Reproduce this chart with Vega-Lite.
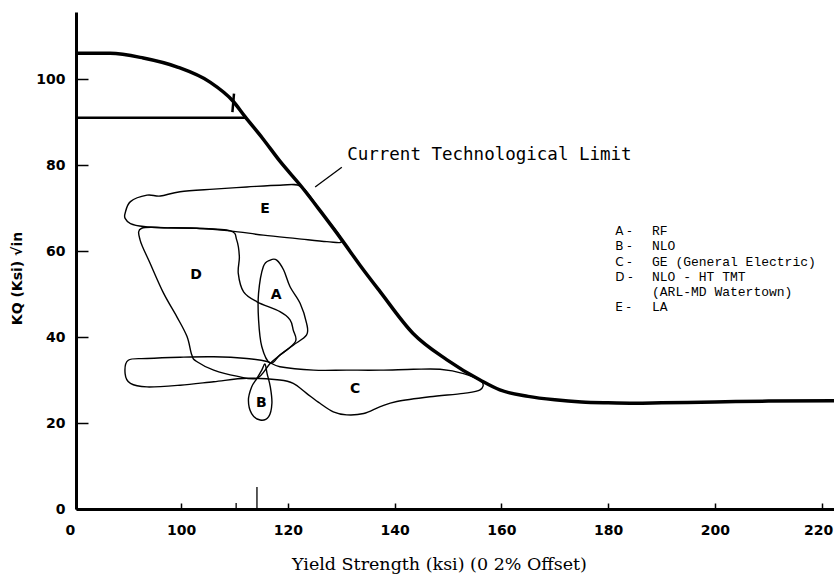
{
  "$schema": "https://vega.github.io/schema/vega-lite/v6.json",
  "width": 758,
  "height": 497,
  "autosize": {"type": "none"},
  "padding": {"left": 76, "top": 12, "right": 0, "bottom": 69},
  "background": "white",
  "config": {"view": {"stroke": null}},
  "datasets": {
    "curve": [
      {"x": 80.3, "y": 106.0}, {"x": 86.7, "y": 106.0}, {"x": 92.9, "y": 104.9}, {"x": 99.3, "y": 102.8},
      {"x": 105.4, "y": 99.3}, {"x": 109.7, "y": 94.9}, {"x": 112.0, "y": 91.2}, {"x": 115.2, "y": 86.3},
      {"x": 118.5, "y": 80.9}, {"x": 122.6, "y": 74.9}, {"x": 126.2, "y": 69.1}, {"x": 130.1, "y": 62.6},
      {"x": 133.5, "y": 56.7}, {"x": 137.3, "y": 50.5}, {"x": 143.4, "y": 40.9}, {"x": 149.8, "y": 34.7},
      {"x": 156.0, "y": 30.0}, {"x": 159.7, "y": 27.7}, {"x": 165.0, "y": 26.2}, {"x": 170.0, "y": 25.4},
      {"x": 175.0, "y": 24.9}, {"x": 180.0, "y": 24.7}, {"x": 185.0, "y": 24.6}, {"x": 190.0, "y": 24.7},
      {"x": 200.0, "y": 24.9}, {"x": 210.0, "y": 25.1}, {"x": 222.3, "y": 25.2}
    ],
    "regions": [
      {"r": "E", "i": 0, "x": 89.5, "y": 68.8}, {"r": "E", "i": 1, "x": 90.5, "y": 71.5}, {"r": "E", "i": 2, "x": 93.6, "y": 73.0},
      {"r": "E", "i": 3, "x": 96.1, "y": 72.8}, {"r": "E", "i": 4, "x": 99.8, "y": 73.8}, {"r": "E", "i": 5, "x": 106.1, "y": 74.4},
      {"r": "E", "i": 6, "x": 112.3, "y": 74.9}, {"r": "E", "i": 7, "x": 118.5, "y": 75.3}, {"r": "E", "i": 8, "x": 122.6, "y": 74.9},
      {"r": "E", "i": 9, "x": 126.2, "y": 69.1}, {"r": "E", "i": 10, "x": 130.1, "y": 62.6}, {"r": "E", "i": 11, "x": 127.3, "y": 62.2},
      {"r": "E", "i": 12, "x": 121.7, "y": 62.9}, {"r": "E", "i": 13, "x": 115.4, "y": 63.7}, {"r": "E", "i": 14, "x": 109.2, "y": 64.7},
      {"r": "E", "i": 15, "x": 102.9, "y": 65.3}, {"r": "E", "i": 16, "x": 96.7, "y": 65.4}, {"r": "E", "i": 17, "x": 93.0, "y": 65.7},
      {"r": "E", "i": 18, "x": 90.5, "y": 66.4}, {"r": "E", "i": 19, "x": 89.5, "y": 67.6},

      {"r": "D", "i": 0, "x": 92.6, "y": 65.3}, {"r": "D", "i": 1, "x": 97.5, "y": 65.4}, {"r": "D", "i": 2, "x": 102.9, "y": 65.3},
      {"r": "D", "i": 3, "x": 109.2, "y": 64.7}, {"r": "D", "i": 4, "x": 110.4, "y": 62.6}, {"r": "D", "i": 5, "x": 110.9, "y": 58.7},
      {"r": "D", "i": 6, "x": 110.7, "y": 54.8}, {"r": "D", "i": 7, "x": 111.7, "y": 50.5}, {"r": "D", "i": 8, "x": 114.2, "y": 48.2},
      {"r": "D", "i": 9, "x": 118.5, "y": 45.9}, {"r": "D", "i": 10, "x": 120.4, "y": 44.0}, {"r": "D", "i": 11, "x": 121.0, "y": 41.6},
      {"r": "D", "i": 12, "x": 121.4, "y": 38.9}, {"r": "D", "i": 13, "x": 118.5, "y": 35.8}, {"r": "D", "i": 14, "x": 116.7, "y": 33.9},
      {"r": "D", "i": 15, "x": 114.2, "y": 30.4}, {"r": "D", "i": 16, "x": 110.4, "y": 30.9}, {"r": "D", "i": 17, "x": 106.1, "y": 32.3},
      {"r": "D", "i": 18, "x": 102.9, "y": 34.3}, {"r": "D", "i": 19, "x": 102.0, "y": 35.8}, {"r": "D", "i": 20, "x": 101.1, "y": 40.1},
      {"r": "D", "i": 21, "x": 99.2, "y": 44.7}, {"r": "D", "i": 22, "x": 96.7, "y": 50.2}, {"r": "D", "i": 23, "x": 94.2, "y": 57.1},
      {"r": "D", "i": 24, "x": 92.3, "y": 62.6},

      {"r": "A", "i": 0, "x": 116.7, "y": 33.9}, {"r": "A", "i": 1, "x": 115.1, "y": 37.8}, {"r": "A", "i": 2, "x": 114.5, "y": 44.0},
      {"r": "A", "i": 3, "x": 114.5, "y": 50.2}, {"r": "A", "i": 4, "x": 115.4, "y": 56.4}, {"r": "A", "i": 5, "x": 116.7, "y": 57.9},
      {"r": "A", "i": 6, "x": 117.9, "y": 57.9}, {"r": "A", "i": 7, "x": 119.2, "y": 55.6}, {"r": "A", "i": 8, "x": 120.4, "y": 51.7},
      {"r": "A", "i": 9, "x": 122.3, "y": 47.8}, {"r": "A", "i": 10, "x": 123.5, "y": 43.2}, {"r": "A", "i": 11, "x": 123.5, "y": 40.5},
      {"r": "A", "i": 12, "x": 121.0, "y": 38.1}, {"r": "A", "i": 13, "x": 118.5, "y": 35.8},

      {"r": "B", "i": 0, "x": 115.7, "y": 33.7}, {"r": "B", "i": 1, "x": 115.1, "y": 32.3}, {"r": "B", "i": 2, "x": 114.2, "y": 30.4},
      {"r": "B", "i": 3, "x": 113.2, "y": 28.4}, {"r": "B", "i": 4, "x": 112.6, "y": 25.3}, {"r": "B", "i": 5, "x": 113.2, "y": 22.2},
      {"r": "B", "i": 6, "x": 114.8, "y": 20.7}, {"r": "B", "i": 7, "x": 116.4, "y": 21.5}, {"r": "B", "i": 8, "x": 117.0, "y": 24.6},
      {"r": "B", "i": 9, "x": 116.7, "y": 28.4}, {"r": "B", "i": 10, "x": 116.1, "y": 31.5},

      {"r": "C", "i": 0, "x": 90.1, "y": 34.6}, {"r": "C", "i": 1, "x": 93.6, "y": 35.0}, {"r": "C", "i": 2, "x": 99.8, "y": 35.3},
      {"r": "C", "i": 3, "x": 106.1, "y": 35.4}, {"r": "C", "i": 4, "x": 112.3, "y": 35.0}, {"r": "C", "i": 5, "x": 116.1, "y": 34.3},
      {"r": "C", "i": 6, "x": 118.5, "y": 33.1}, {"r": "C", "i": 7, "x": 124.8, "y": 32.3}, {"r": "C", "i": 8, "x": 131.0, "y": 32.3},
      {"r": "C", "i": 9, "x": 137.3, "y": 32.3}, {"r": "C", "i": 10, "x": 143.5, "y": 32.5}, {"r": "C", "i": 11, "x": 148.5, "y": 32.5},
      {"r": "C", "i": 12, "x": 152.9, "y": 31.5}, {"r": "C", "i": 13, "x": 156.3, "y": 29.6}, {"r": "C", "i": 14, "x": 156.0, "y": 27.7},
      {"r": "C", "i": 15, "x": 152.9, "y": 26.9}, {"r": "C", "i": 16, "x": 146.6, "y": 26.1}, {"r": "C", "i": 17, "x": 140.4, "y": 25.0},
      {"r": "C", "i": 18, "x": 137.3, "y": 23.8}, {"r": "C", "i": 19, "x": 134.2, "y": 22.2}, {"r": "C", "i": 20, "x": 131.0, "y": 21.9},
      {"r": "C", "i": 21, "x": 128.5, "y": 22.6}, {"r": "C", "i": 22, "x": 126.0, "y": 24.6}, {"r": "C", "i": 23, "x": 123.5, "y": 26.9},
      {"r": "C", "i": 24, "x": 121.0, "y": 29.2}, {"r": "C", "i": 25, "x": 118.5, "y": 30.0}, {"r": "C", "i": 26, "x": 112.3, "y": 30.4},
      {"r": "C", "i": 27, "x": 106.1, "y": 29.6}, {"r": "C", "i": 28, "x": 99.8, "y": 28.8}, {"r": "C", "i": 29, "x": 93.6, "y": 28.4},
      {"r": "C", "i": 30, "x": 90.5, "y": 29.2}, {"r": "C", "i": 31, "x": 89.5, "y": 31.5}
    ],
    "regionLabels": [
      {"label": "E", "x": 115.7, "y": 69.8},
      {"label": "D", "x": 102.8, "y": 54.4},
      {"label": "A", "x": 117.8, "y": 49.8},
      {"label": "B", "x": 115.0, "y": 24.7},
      {"label": "C", "x": 132.6, "y": 27.9}
    ],
    "segments": [
      {"x": 80.3, "x2": 112.0, "y": 91.0, "y2": 91.0},
      {"x": 109.6, "x2": 109.9, "y": 92.3, "y2": 96.6}
    ],
    "thinSegments": [
      {"x": 125.1, "x2": 130.1, "y": 74.9, "y2": 79.5},
      {"x": 110.3, "x2": 110.3, "y": 0, "y2": 1.4},
      {"x": 114.2, "x2": 114.2, "y": 0, "y2": 5.1}
    ],
    "legendKeys": [
      {"key": "A -", "desc": "RF", "y": 64.7},
      {"key": "B -", "desc": "NLO", "y": 61.2},
      {"key": "C -", "desc": "GE (General Electric)", "y": 57.4},
      {"key": "D -", "desc": "NLO - HT TMT", "y": 54.0},
      {"key": "", "desc": "(ARL-MD Watertown)", "y": 50.5},
      {"key": "E -", "desc": "LA", "y": 47.0}
    ]
  },
  "layer": [
    {
      "data": {"name": "curve"},
      "mark": {"type": "line", "color": "black", "strokeWidth": 3.5, "interpolate": "monotone"},
      "encoding": {
        "x": {
          "field": "x", "type": "quantitative",
          "scale": {"domain": [80.3, 222.3], "nice": false, "zero": false},
          "axis": {
            "values": [80.3, 100, 120, 140, 160, 180, 200, 220],
            "labelExpr": "datum.value < 90 ? '0' : datum.label",
            "grid": false, "tickSize": -6, "tickWidth": 1.5, "tickColor": "black",
            "domainWidth": 3, "domainColor": "black",
            "labelFont": "DejaVu Sans", "labelFontWeight": "bold", "labelFontSize": 14, "labelColor": "black",
            "labelPadding": 20, "labelFlush": 13, "labelFlushOffset": 11,
            "title": "Yield Strength (ksi) (0 2% Offset)",
            "titleFont": "DejaVu Serif", "titleFontWeight": "normal", "titleFontSize": 17.5, "titleColor": "black",
            "titleX": 363, "titleY": 46
          }
        },
        "y": {
          "field": "y", "type": "quantitative",
          "scale": {"domain": [0, 115.6], "nice": false, "zero": false},
          "axis": {
            "values": [0, 20, 40, 60, 80, 100],
            "grid": false, "tickSize": -12, "tickWidth": 1.5, "tickColor": "black",
            "domainWidth": 3, "domainColor": "black",
            "labelFont": "DejaVu Sans", "labelFontWeight": "bold", "labelFontSize": 14, "labelColor": "black",
            "labelPadding": 23, "labelFlush": false,
            "title": "KQ (Ksi) √in",
            "titleFont": "DejaVu Sans", "titleFontWeight": "bold", "titleFontSize": 14, "titleColor": "black",
            "titleX": -52, "titleY": 266
          }
        }
      }
    },
    {
      "mark": {"type": "rule", "color": "black", "strokeWidth": 2.5},
      "encoding": {"y": {"datum": 115.6}}
    },
    {
      "data": {"name": "segments"},
      "mark": {"type": "rule", "color": "black", "strokeWidth": 2.5},
      "encoding": {
        "x": {"field": "x", "type": "quantitative"},
        "x2": {"field": "x2"},
        "y": {"field": "y", "type": "quantitative"},
        "y2": {"field": "y2"}
      }
    },
    {
      "data": {"name": "thinSegments"},
      "mark": {"type": "rule", "color": "black", "strokeWidth": 1.3},
      "encoding": {
        "x": {"field": "x", "type": "quantitative"},
        "x2": {"field": "x2"},
        "y": {"field": "y", "type": "quantitative"},
        "y2": {"field": "y2"}
      }
    },
    {
      "data": {"name": "regions"},
      "mark": {"type": "line", "color": "black", "strokeWidth": 1.4, "interpolate": "cardinal-closed"},
      "encoding": {
        "x": {"field": "x", "type": "quantitative"},
        "y": {"field": "y", "type": "quantitative"},
        "detail": {"field": "r"},
        "order": {"field": "i", "type": "quantitative"}
      }
    },
    {
      "data": {"name": "regionLabels"},
      "mark": {"type": "text", "font": "DejaVu Sans", "fontWeight": "bold", "fontSize": 14, "color": "black", "align": "center", "baseline": "middle"},
      "encoding": {
        "x": {"field": "x", "type": "quantitative"},
        "y": {"field": "y", "type": "quantitative"},
        "text": {"field": "label"}
      }
    },
    {
      "data": {"values": [{"label": "Current Technological Limit", "x": 131.1, "y": 82.3}]},
      "mark": {"type": "text", "font": "DejaVu Sans Mono", "fontSize": 17.5, "color": "black", "align": "left", "baseline": "middle"},
      "encoding": {
        "x": {"field": "x", "type": "quantitative"},
        "y": {"field": "y", "type": "quantitative"},
        "text": {"field": "label"}
      }
    },
    {
      "data": {"name": "legendKeys"},
      "mark": {"type": "text", "font": "DejaVu Sans", "fontSize": 12, "color": "black", "align": "left", "baseline": "middle"},
      "encoding": {
        "x": {"datum": 181.3, "type": "quantitative"},
        "y": {"field": "y", "type": "quantitative"},
        "text": {"field": "key"}
      }
    },
    {
      "data": {"name": "legendKeys"},
      "mark": {"type": "text", "font": "Liberation Mono", "fontSize": 13, "color": "black", "align": "left", "baseline": "middle"},
      "encoding": {
        "x": {"datum": 188.2, "type": "quantitative"},
        "y": {"field": "y", "type": "quantitative"},
        "text": {"field": "desc"}
      }
    }
  ]
}
